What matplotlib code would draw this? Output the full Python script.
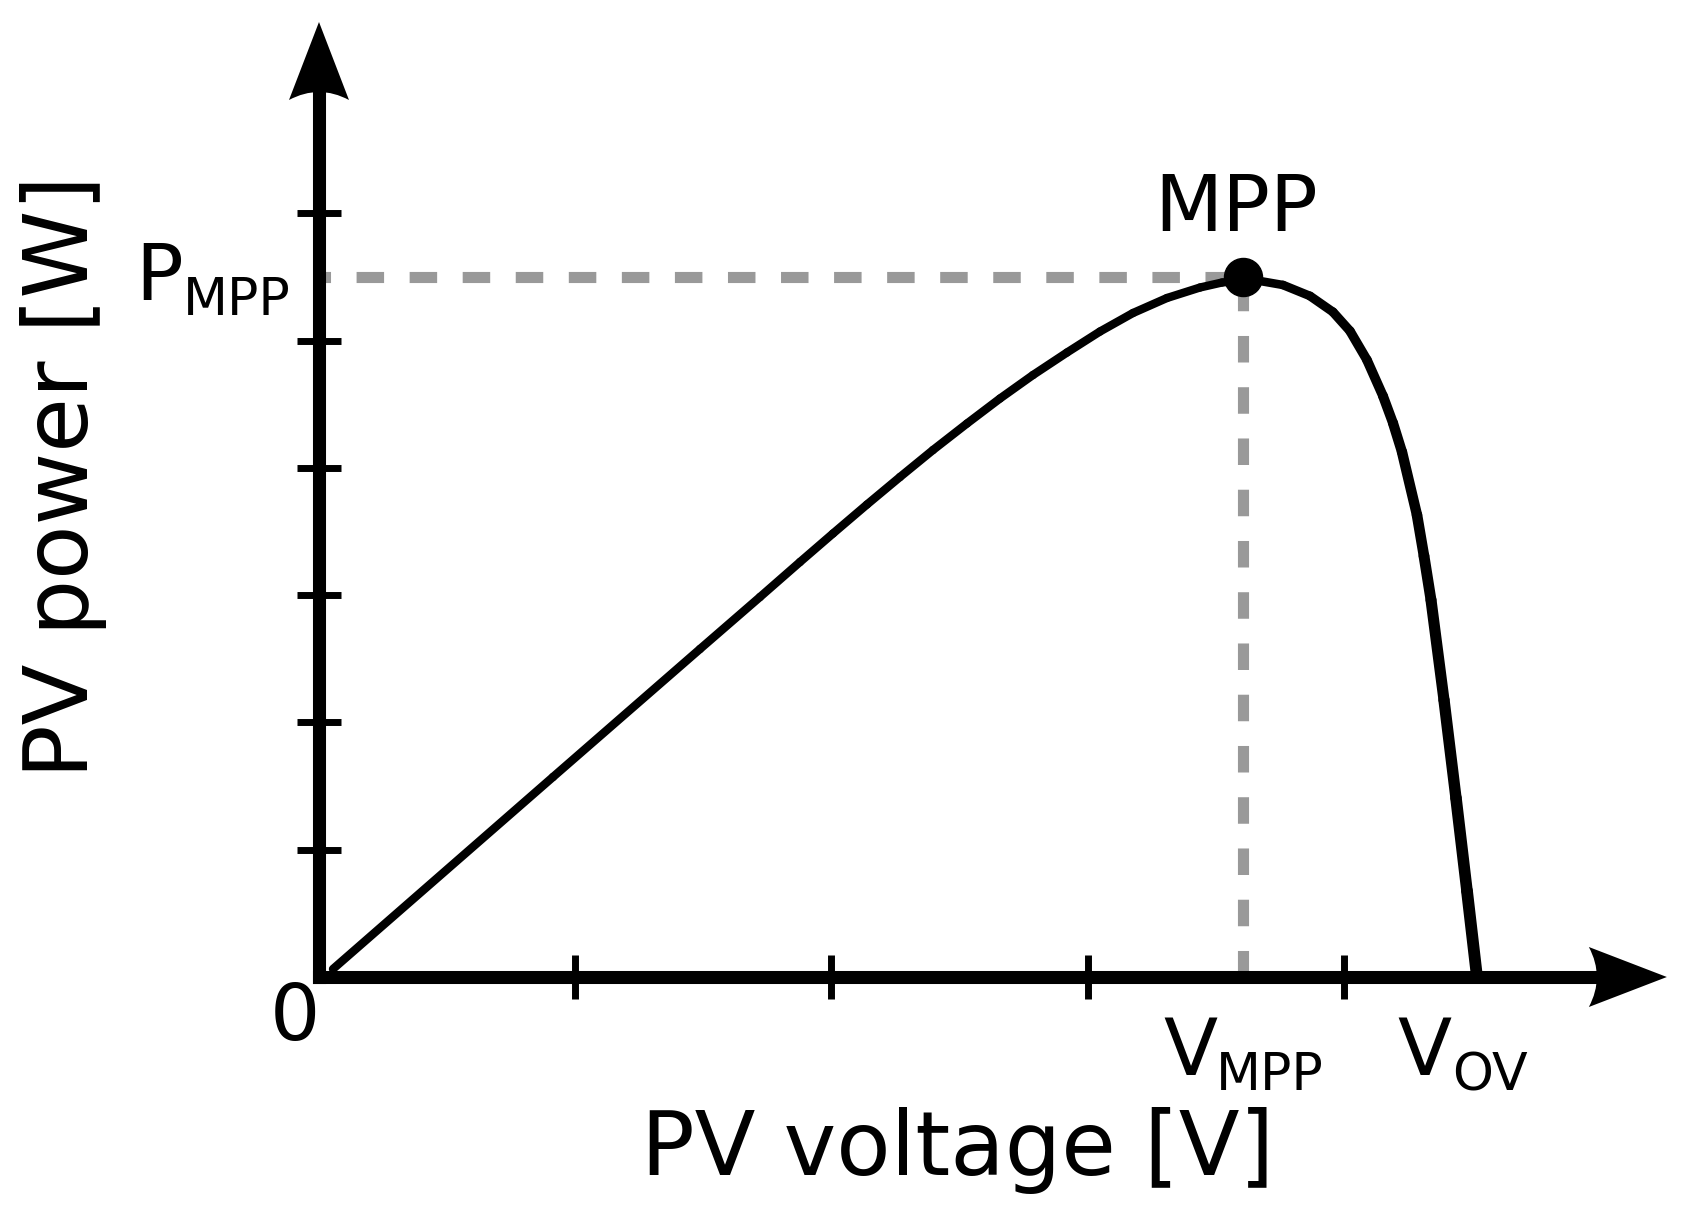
import numpy as np
import matplotlib
matplotlib.use('Agg')
import matplotlib.pyplot as plt
import matplotlib.transforms as mtransforms
from matplotlib.path import Path
from matplotlib.patches import PathPatch
from matplotlib.collections import LineCollection

# P-V curve (units = tick spacings)
voltage = [0.0546, 0.9133, 1.4871, 1.7213, 1.8774, 2.0062, 2.1389, 2.2677, 2.3966, 2.5293,
           2.6581, 2.7869, 2.9196, 3.0484, 3.1772, 3.3099, 3.4387, 3.5246, 3.6066,
           3.6729, 3.7627, 3.8681, 3.9578, 4.0242, 4.0905, 4.1530, 4.1920, 4.2272,
           4.2857, 4.3130, 4.3404, 4.3911, 4.4379, 4.4809, 4.5199]
power = [0.0628, 1.5711, 2.5766, 2.9851, 3.2600, 3.4839, 3.7117, 3.9277, 4.1398, 4.3480,
         4.5444, 4.7290, 4.9057, 5.0707, 5.2160, 5.3339, 5.4163, 5.4556, 5.4713,
         5.4674, 5.4360, 5.3496, 5.2239, 5.0746, 4.8468, 4.5640, 4.3519, 4.1241,
         3.6292, 3.3072, 2.9615, 2.1760, 1.4061, 0.6756, 0.0]

v_mpp = 3.607
p_mpp = 5.50
x_ticks = [1, 2, 3, 4]
y_ticks = [1, 2, 3, 4, 5, 6]

plt.rcParams['font.family'] = ['DejaVu Sans']
plt.rcParams['lines.scale_dashes'] = False

fig = plt.figure(figsize=(16.84, 12.22), dpi=100)
ax = fig.add_axes([0, 0, 1, 1])
ax.set_xlim(-1.2451, 5.3279)
ax.set_ylim(-1.9246, 7.6748)

# axes drawn as arrows through the origin
ax.spines['top'].set_visible(False)
ax.spines['right'].set_visible(False)
ax.spines['left'].set_position(('data', 0))
ax.spines['bottom'].set_position(('data', 0))
ax.spines['left'].set_bounds(0, 6.93)
ax.spines['bottom'].set_bounds(0, 4.98)
for s in ['left', 'bottom']:
    ax.spines[s].set_linewidth(9.4)
ax.set_xticks(x_ticks)
ax.set_yticks(y_ticks)
ax.tick_params(direction='inout', length=31, width=5, color='k',
               labelbottom=False, labelleft=False)

head = Path([(0, 0), (-78, 30), (-62, 0), (-78, -30), (0, 0), (0, 0)],
            [Path.MOVETO, Path.LINETO, Path.CURVE3, Path.CURVE3, Path.LINETO, Path.CLOSEPOLY])

def arrowhead(x, y, angle):
    tr = mtransforms.Affine2D().rotate_deg(angle) + mtransforms.ScaledTranslation(x, y, ax.transData)
    ax.add_patch(PathPatch(head, transform=tr, fc='k', ec='none', clip_on=False, zorder=3))

arrowhead(5.261, 0, 0)
arrowhead(0, 7.502, 90)

# guide lines to MPP
ax.plot([0, v_mpp], [p_mpp, p_mpp], color='#999999', lw=8, ls=(11.5, (19.8, 18.4)), zorder=1)
ax.plot([v_mpp, v_mpp], [0, p_mpp], color='#999999', lw=8, ls=(0, (19.1, 17.8)), zorder=1)

# curve, stroke gets heavier on the falling side
pts = np.column_stack([voltage, power])
segs = [pts[i:i + 2] for i in range(len(pts) - 1)]
peak = int(np.argmax(power))
widths = []
for i in range(len(segs)):
    if i < peak:
        widths.append(6.0)
    else:
        widths.append(6.0 + 2.5 * (i - peak) / (len(segs) - 1 - peak))
lc = LineCollection(segs, linewidths=widths, colors='k', capstyle='round', joinstyle='round', zorder=2)
ax.add_collection(lc)

ax.plot([v_mpp], [p_mpp], 'o', ms=27.4, color='k', zorder=4)

# labels
ax.text(3.259, 5.860, 'MPP', fontsize=57, ha='left', va='baseline')
ax.text(-0.718, 5.318, 'P', fontsize=57, ha='left', va='baseline')
ax.text(-0.531, 5.200, 'MPP', fontsize=37.5, ha='left', va='baseline')
ax.text(3.294, -0.770, 'V', fontsize=57, ha='left', va='baseline')
ax.text(3.501, -0.888, 'MPP', fontsize=37.5, ha='left', va='baseline')
ax.text(4.208, -0.770, 'V', fontsize=57, ha='left', va='baseline')
ax.text(4.422, -0.888, 'OV', fontsize=37.5, ha='left', va='baseline')
ax.text(-0.191, -0.495, '0', fontsize=57, ha='left', va='baseline')
ax.text(2.494, -1.555, 'PV voltage [V]', fontsize=64, ha='center', va='baseline')
ax.text(-0.902, 3.935, 'PV power [W]', fontsize=64, rotation=90, rotation_mode='anchor',
        ha='center', va='baseline')

fig.savefig('out.png', dpi=100)
